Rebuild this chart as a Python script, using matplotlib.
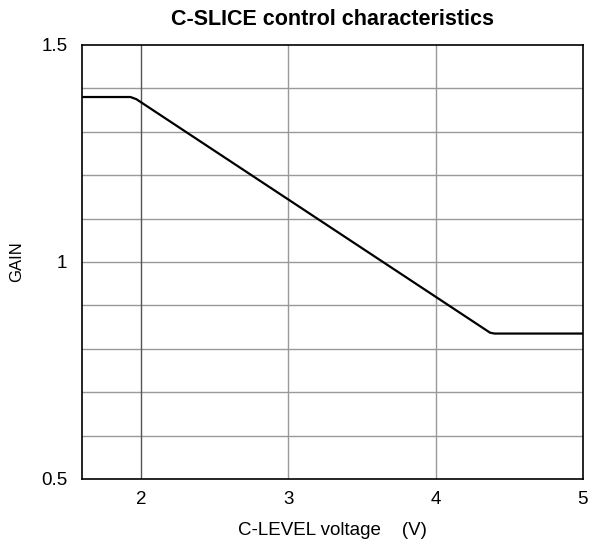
import matplotlib
matplotlib.use("Agg")
import matplotlib.pyplot as plt
from matplotlib.ticker import MultipleLocator, FixedLocator

plt.rcParams['font.family'] = ['Liberation Sans', 'DejaVu Sans']

# C-LEVEL voltage (V) vs GAIN
voltage = [1.6, 1.93, 1.97, 4.37, 4.40, 5.0]
gain = [1.38, 1.38, 1.375, 0.837, 0.835, 0.835]

fig = plt.figure(figsize=(5.93, 5.48), dpi=100)
ax = fig.add_axes([0.138, 0.126, 0.845, 0.792])

ax.set_xlim(1.6, 5)
ax.set_ylim(0.5, 1.5)
ax.xaxis.set_major_locator(FixedLocator([2, 3, 4, 5]))
ax.yaxis.set_major_locator(FixedLocator([0.5, 1, 1.5]))
ax.yaxis.set_minor_locator(MultipleLocator(0.1))
ax.set_yticklabels(['0.5', '1', '1.5'])

for y in [0.6, 0.7, 0.8, 0.9, 1.0, 1.1, 1.2, 1.3, 1.4]:
    ax.axhline(y, color='#999999', lw=1, zorder=1)
ax.axvline(2, color='#555555', lw=1, zorder=1)
ax.axvline(3, color='#999999', lw=1, zorder=1)
ax.axvline(4, color='#999999', lw=1, zorder=1)

ax.plot(voltage, gain, color='black', lw=1.6, zorder=3)

ax.tick_params(which='both', length=0, labelsize=13.5)
ax.tick_params(axis='x', pad=9)
ax.tick_params(axis='y', pad=10.5)
for s in ax.spines.values():
    s.set_linewidth(1.2)

ax.set_xlabel('C-LEVEL voltage    (V)', fontsize=13.5, labelpad=10)
ax.set_ylabel('GAIN', fontsize=12, labelpad=12)
ax.set_title('C-SLICE control characteristics', fontsize=15.5, fontweight='bold', pad=14)

fig.savefig('out.png', dpi=100)
